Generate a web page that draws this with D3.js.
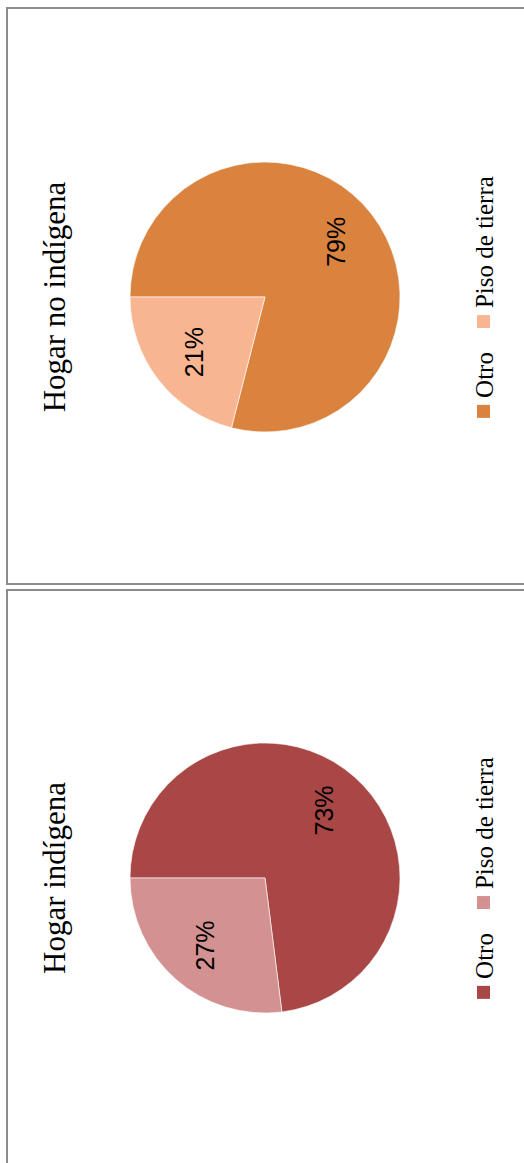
<!DOCTYPE html>
<html>
<head>
<meta charset="utf-8">
<script src="https://cdn.jsdelivr.net/npm/d3@7"></script>
<style>
  body { margin: 0; background: #fff; }
  svg { display: block; }
</style>
</head>
<body>
<svg id="chart"></svg>
<script>
const width = 524;
const height = 1163;

// data
const titles = ['Hogar no indígena', 'Hogar indígena'];
const categories = ['Otro', 'Piso de tierra'];
const noIndigena = [79, 21];
const indigena = [73, 27];
const noIndigenaColors = ['#D9833E', '#F8B592'];
const indigenaColors = ['#A84745', '#D39291'];

const series = [
  { title: titles[0], values: noIndigena, colors: noIndigenaColors },
  { title: titles[1], values: indigena, colors: indigenaColors }
];

// layout (screen coords)
const frames = [
  { x: 7, y: 8, h: 576 },
  { x: 7, y: 590, h: 600 }
];
const centers = [
  { x: 265, y: 297 },
  { x: 265, y: 878 }
];
const radius = 135;

const svg = d3.select('#chart').attr('width', width).attr('height', height);

svg
  .selectAll('rect.frame')
  .data(frames)
  .join('rect')
  .attr('class', 'frame')
  .attr('x', d => d.x)
  .attr('y', d => d.y)
  .attr('width', 600)
  .attr('height', d => d.h)
  .attr('fill', 'none')
  .attr('stroke', '#8c8c8c')
  .attr('stroke-width', 2);

const pie = d3.pie().sort(null).value(d => d);
const arc = d3.arc().innerRadius(0).outerRadius(radius);
const labelArc = d3.arc().innerRadius(90).outerRadius(90);

series.forEach((s, i) => {
  // whole chart is drawn upright, then turned a quarter to the left
  const g = svg
    .append('g')
    .attr('transform', `translate(${centers[i].x},${centers[i].y}) rotate(-90)`);

  const arcs = pie(s.values);

  g.append('g')
    .selectAll('path')
    .data(arcs)
    .join('path')
    .attr('d', arc)
    .attr('fill', (d, j) => s.colors[j])
    .attr('stroke', '#fff')
    .attr('stroke-width', 0.6);

  g.append('g')
    .attr('font-family', '"Liberation Sans", Arial, sans-serif')
    .attr('font-size', 25)
    .attr('fill', '#000')
    .attr('text-anchor', 'middle')
    .selectAll('text')
    .data(arcs)
    .join('text')
    .attr('transform', d => `translate(${labelArc.centroid(d)})`)
    .attr('dy', '0.35em')
    .text(d => d.data + '%');

  g.append('text')
    .attr('x', 0)
    .attr('y', -200)
    .attr('text-anchor', 'middle')
    .attr('font-family', '"Liberation Serif", "Times New Roman", serif')
    .attr('font-size', 31)
    .attr('fill', '#000')
    .text(s.title);

  // legend
  const legend = g.append('g').attr('transform', 'translate(0,228)');
  const items = legend
    .selectAll('g')
    .data(categories)
    .join('g');
  items
    .append('rect')
    .attr('y', -16)
    .attr('width', 13)
    .attr('height', 13)
    .attr('fill', (d, j) => s.colors[j]);
  items
    .append('text')
    .attr('x', 20)
    .attr('font-family', '"Liberation Serif", "Times New Roman", serif')
    .attr('font-size', 25)
    .attr('fill', '#000')
    .text(d => d);

  let offset = 0;
  const widths = [];
  items.each(function () {
    widths.push(d3.select(this).select('text').node().getComputedTextLength() + 20);
  });
  const total = d3.sum(widths) + 24 * (widths.length - 1);
  items.attr('transform', (d, j) => {
    const x = -total / 2 + offset;
    offset += widths[j] + 24;
    return `translate(${x},0)`;
  });
});
</script>
</body>
</html>
